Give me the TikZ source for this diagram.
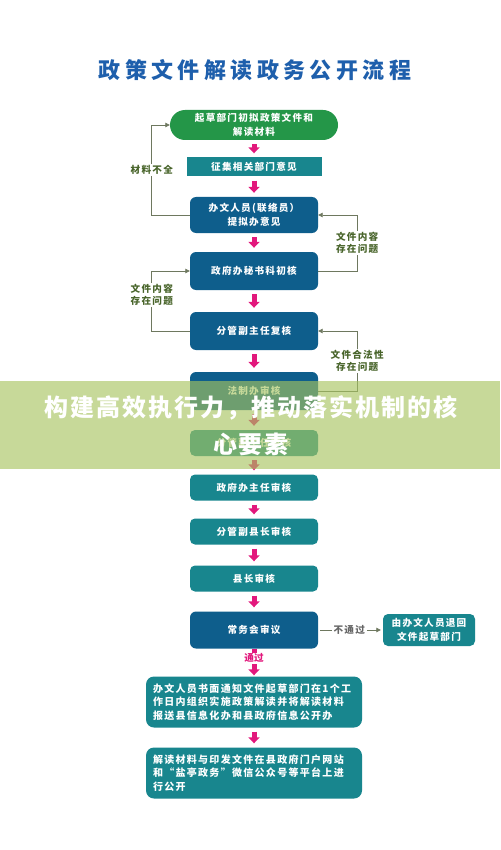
\documentclass[tikz,border=0pt]{standalone}
\usepackage{fontspec}
\usetikzlibrary{arrows.meta}
\newfontfamily\cjk{Noto Sans CJK SC}
\newfontfamily\cjks{Noto Sans CJK SC}[LetterSpace=13]
\newfontfamily\cjkt{Noto Sans CJK SC}[LetterSpace=20]
\newfontfamily\cjkw{Noto Sans CJK SC}[LetterSpace=8]
\definecolor{tealc}{RGB}{24,134,142}
\definecolor{bluec}{RGB}{14,94,140}
\definecolor{greenc}{RGB}{36,150,72}
\definecolor{pinkc}{RGB}{226,24,124}
\definecolor{fbc}{RGB}{110,120,95}
\definecolor{lblc}{RGB}{72,100,42}
\definecolor{titlec}{RGB}{30,95,172}
\definecolor{bannerc}{RGB}{167,196,95}
\tikzset{
  box/.style={text=white, font=\cjks\bfseries\fontsize{9.6}{14}\selectfont, align=center, inner sep=0pt, minimum width=128pt},
  tealbox/.style={box, fill=tealc, rounded corners=5pt},
  bluebox/.style={box, fill=bluec, rounded corners=6pt},
  pinkarr/.style={draw=pinkc, line width=5pt, -{Triangle[width=11pt,length=6pt]}, shorten <=4pt, shorten >=4pt},
  fb/.style={draw=fbc, line width=0.8pt, -{Triangle[width=4.5pt,length=4.5pt]}},
  lbl/.style={fill=white, text=lblc, font=\cjks\bfseries\fontsize{9.6}{12.5}\selectfont, align=center, inner sep=1pt},
  wide/.style={text=white, font=\cjks\bfseries\fontsize{10}{13.5}\selectfont, align=left, inner sep=0pt, minimum width=216pt, minimum height=51pt, text width=202pt, fill=tealc, rounded corners=8pt}
}
\begin{document}
\begin{tikzpicture}[x=1pt,y=-1pt]
\useasboundingbox (0,0) rectangle (500,850);
\fill[white] (0,0) rectangle (500,850);
\node[text=titlec, font=\cjkt\bfseries\fontsize{22}{26}\selectfont] (title) at (255,70) {政策文件解读政务公开流程};

\node[box, fill=greenc, rounded corners=15pt, minimum width=168pt, minimum height=30pt] (b1) at (254,125) {起草部门初拟政策文件和\\解读材料};
\node[box, fill=tealc, minimum width=135pt, minimum height=19pt] (b2) at (254,167) {征集相关部门意见};
\node[bluebox, minimum height=36pt] (b3) at (254,215) {办文人员(联络员）\\提拟办意见};
\node[bluebox, minimum height=38pt] (b4) at (254,271) {政府办秘书科初核};
\node[bluebox, minimum height=38pt] (b5) at (254,331) {分管副主任复核};
\node[bluebox, minimum height=38pt] (b6) at (254,391) {法制办审核};
\node[tealbox, minimum height=26pt] (b7) at (254,443) {分管副主任审核};
\node[tealbox, minimum height=26pt] (b8) at (254,487.5) {政府办主任审核};
\node[tealbox, minimum height=26pt] (b9) at (254,531.5) {分管副县长审核};
\node[tealbox, minimum height=26pt] (b10) at (254,578.5) {县长审核};
\node[bluebox, minimum height=37pt] (b11) at (254,630) {常务会审议};
\node[tealbox, minimum width=92pt, minimum height=32pt] (b12) at (429,630) {由办文人员退回\\文件起草部门};
\node[wide] (b13) at (254,702) {办文人员书面通知文件起草部门在1个工\\作日内组织实施政策解读并将解读材料\\报送县信息化办和县政府信息公开办};
\node[wide] (b14) at (254,773) {解读材料与印发文件在县政府门户网站\\和“盐亭政务”微信公众号等平台上进\\行公开};

\draw[pinkarr] (b1) -- (b2);
\draw[pinkarr] (b2) -- (b3);
\draw[pinkarr] (b3) -- (b4);
\draw[pinkarr] (b4) -- (b5);
\draw[pinkarr] (b5) -- (b6);
\draw[pinkarr] (b6) -- (b7);
\draw[pinkarr] (b7) -- (b8);
\draw[pinkarr] (b8) -- (b9);
\draw[pinkarr] (b9) -- (b10);
\draw[pinkarr] (b10) -- (b11);
\draw[pinkarr, shorten <=0pt, shorten >=1pt] (b11) -- node[fill=white, text=pinkc, inner sep=1pt, font=\cjk\bfseries\fontsize{9.6}{11}\selectfont, pos=0.35] (pass) {通过} (b13);
\draw[pinkarr] (b13) -- (b14);

\draw[fb, shorten <=2pt, shorten >=2pt] (b11) -- node[fill=white, text=black!60, inner sep=2pt, font=\cjks\bfseries\fontsize{9.6}{11}\selectfont, pos=0.48] (nopass) {不通过} (b12);

\draw[fb] (b3.west) -- ++(-38,0) |- node[lbl, pos=0.25] (l1) {材料不全} (b1.west);
\draw[fb] (b5.west) -- ++(-38,0) |- node[lbl, pos=0.3] (l2) {文件内容\\存在问题} (b4.west);
\draw[fb] (b4.east) -- ++(39,0) |- node[lbl, pos=0.25] (l3) {文件内容\\存在问题} (b3.east);
\draw[fb] (b6.east) -- ++(39,0) |- node[lbl, pos=0.25] (l4) {文件合法性\\存在问题} (b5.east);

\fill[bannerc, fill opacity=0.63] (0,381) rectangle (500,469);
\node[text=white, font=\cjkw\bfseries\fontsize{24}{37}\selectfont, align=center] (banner) at (251,426) {构建高效执行力，推动落实机制的核\\心要素};
\end{tikzpicture}
\end{document}
